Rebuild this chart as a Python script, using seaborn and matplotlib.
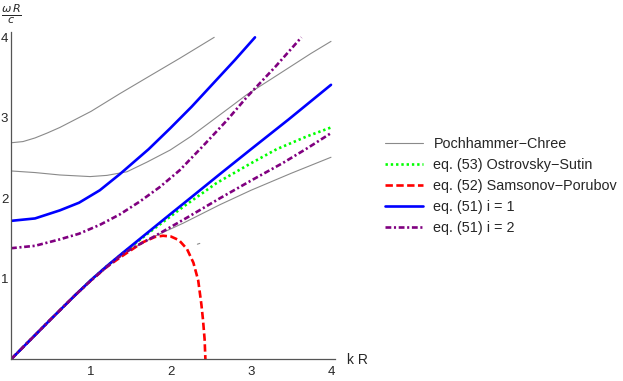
import numpy as np
import pandas as pd
import seaborn as sns
import matplotlib.pyplot as plt
from matplotlib.ticker import MultipleLocator

# Values (k R on x, omega R / c on y)
# Pochhammer-Chree, three branches
k_pc1 = [0, 0.5, 0.8, 1.0, 1.2, 1.4, 1.6, 1.8, 2.15, 2.61, 3.0, 3.5, 4.0]
w_pc1 = [0, 0.50, 0.795, 0.98, 1.15, 1.30, 1.42, 1.53, 1.69, 1.92, 2.10, 2.31, 2.51]
k_pc2 = [0, 0.3, 0.61, 0.99, 1.2, 1.45, 1.7, 1.99, 2.25, 2.5, 2.75, 2.95, 3.25, 3.5, 3.75, 4.0]
w_pc2 = [2.34, 2.32, 2.29, 2.27, 2.285, 2.33, 2.45, 2.60, 2.77, 2.955, 3.14, 3.29, 3.48, 3.64, 3.80, 3.95]
k_pc3 = [0, 0.15, 0.3, 0.45, 0.61, 1.0, 1.36, 1.7, 2.11, 2.54]
w_pc3 = [2.69, 2.705, 2.75, 2.81, 2.88, 3.08, 3.30, 3.50, 3.74, 4.0]
# small stray piece of the Pochhammer-Chree curve
k_pc4 = [2.33, 2.36]
w_pc4 = [1.43, 1.44]

# eq. (53) Ostrovsky-Sutin
k_os = [0, 0.5, 0.8, 1.0, 1.2, 1.4, 1.74, 2.16, 2.57, 2.99, 3.32, 3.7, 4.0]
w_os = [0, 0.50, 0.795, 0.985, 1.16, 1.32, 1.585, 1.90, 2.19, 2.43, 2.61, 2.77, 2.88]

# eq. (52) Samsonov-Porubov
k_sp = [0, 0.5, 0.8, 1.0, 1.2, 1.4, 1.65, 1.80, 1.90, 2.0, 2.1, 2.2, 2.28, 2.34, 2.38, 2.40, 2.42, 2.43]
w_sp = [0, 0.50, 0.795, 0.98, 1.15, 1.29, 1.455, 1.52, 1.535, 1.525, 1.48, 1.37, 1.20, 0.98, 0.68, 0.49, 0.25, 0]

# eq. (51) i = 1, two branches
k_i1a = [0, 0.5, 0.8, 1.0, 1.2, 1.4, 1.74, 2.0, 2.2, 2.61, 3.0, 3.47, 4.0]
w_i1a = [0, 0.50, 0.795, 0.985, 1.16, 1.325, 1.60, 1.81, 1.97, 2.30, 2.61, 2.98, 3.41]
k_i1b = [0, 0.3, 0.61, 0.85, 1.11, 1.36, 1.72, 1.99, 2.26, 2.53, 2.8, 3.05]
w_i1b = [1.72, 1.75, 1.85, 1.945, 2.10, 2.30, 2.61, 2.87, 3.14, 3.43, 3.72, 4.0]

# eq. (51) i = 2, two branches
k_i2a = [0, 0.5, 0.8, 1.0, 1.2, 1.4, 1.55, 1.78, 2.2, 2.61, 3.0, 3.4, 3.7, 4.0]
w_i2a = [0, 0.50, 0.795, 0.98, 1.15, 1.31, 1.40, 1.52, 1.76, 2.00, 2.22, 2.44, 2.62, 2.81]
k_i2b = [0, 0.3, 0.61, 0.85, 1.11, 1.36, 1.61, 1.86, 2.11, 2.4, 2.7, 2.95, 3.3, 3.63]
w_i2b = [1.38, 1.41, 1.49, 1.56, 1.67, 1.80, 1.96, 2.14, 2.35, 2.65, 2.97, 3.26, 3.63, 4.0]

sns.set_style("white")
plt.rcParams['font.family'] = ['Liberation Sans', 'DejaVu Sans']

fig = plt.figure(figsize=(6.23, 3.81), dpi=100)
ax = fig.add_axes([11 / 623, 21.7 / 381, 324 / 623, 327.6 / 381])

gray = '#8a8a8a'
lw = 1.9
dashdot = [2.2, 1.0, 0.8, 1.0]

# Pochhammer-Chree (thin gray)
for i, (kk, ww) in enumerate([(k_pc1, w_pc1), (k_pc2, w_pc2), (k_pc3, w_pc3), (k_pc4, w_pc4)]):
    sns.lineplot(x=kk, y=ww, ax=ax, sort=False, color=gray, linewidth=0.8,
                 label='Pochhammer\u2212Chree' if i == 0 else None)

sns.lineplot(x=k_os, y=w_os, ax=ax, sort=False, color='#00ff00', linewidth=lw,
             label='eq. (53) Ostrovsky\u2212Sutin').lines[-1].set_dashes([0.9, 1.1])
sns.lineplot(x=k_sp, y=w_sp, ax=ax, sort=False, color='#ff0000', linewidth=lw,
             label='eq. (52) Samsonov\u2212Porubov').lines[-1].set_dashes([2.8, 1.3])
sns.lineplot(x=k_i1a, y=w_i1a, ax=ax, sort=False, color='#0000ff', linewidth=lw,
             label='eq. (51) i = 1')
sns.lineplot(x=k_i1b, y=w_i1b, ax=ax, sort=False, color='#0000ff', linewidth=lw)
sns.lineplot(x=k_i2a, y=w_i2a, ax=ax, sort=False, color='#800080', linewidth=lw,
             label='eq. (51) i = 2').lines[-1].set_dashes(dashdot)
sns.lineplot(x=k_i2b, y=w_i2b, ax=ax, sort=False, color='#800080', linewidth=lw).lines[-1].set_dashes(dashdot)

ax.set_xlim(0, 4.05)
ax.set_ylim(0, 4.07)

# Mathematica-like axes through the origin
for s in ['top', 'right']:
    ax.spines[s].set_visible(False)
for s in ['left', 'bottom']:
    ax.spines[s].set_color('#555555')
    ax.spines[s].set_linewidth(0.9)
ax.xaxis.set_major_locator(MultipleLocator(1))
ax.xaxis.set_minor_locator(MultipleLocator(0.2))
ax.yaxis.set_major_locator(MultipleLocator(1))
ax.yaxis.set_minor_locator(MultipleLocator(0.2))
ax.tick_params(which='major', direction='in', length=4, width=0.8, color='#555555',
               labelsize=9.5)
ax.tick_params(which='minor', direction='in', length=2.2, width=0.7, color='#555555')
ax.tick_params(axis='x', pad=4.5)
ax.tick_params(axis='y', pad=2)
ax.set_xticks([1, 2, 3, 4])
ax.set_yticks([1, 2, 3, 4])
ax.set_xlabel('')
ax.set_ylabel('')

fig.text(347 / 623, 1 - 359.5 / 381, 'k R', fontsize=10, ha='left', va='center')
fig.text(11 / 623, 1 - 14.5 / 381, r'$\frac{\omega\, R}{c}$', fontsize=11.5,
         ha='center', va='center')

leg = ax.legend(loc='center left', bbox_to_anchor=(385 / 623, 1 - 186 / 381),
                bbox_transform=fig.transFigure, frameon=False, fontsize=10.4,
                handlelength=2.6, handletextpad=0.75, labelspacing=0.5,
                borderpad=0, borderaxespad=0)

fig.savefig('out.png', dpi=100)
